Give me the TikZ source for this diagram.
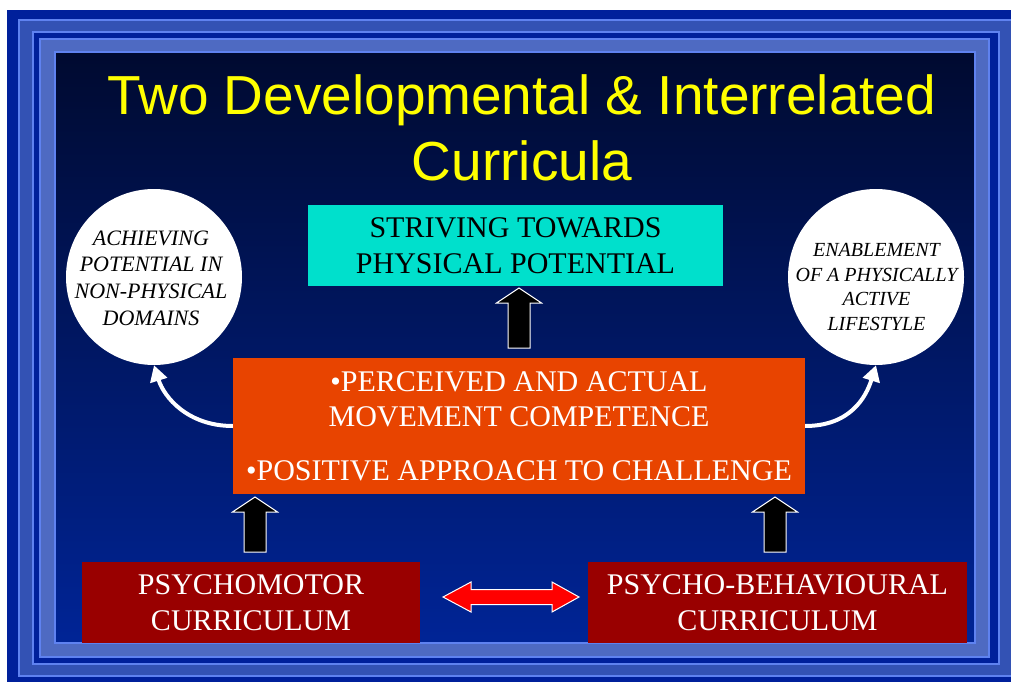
\documentclass[tikz,border=0pt]{standalone}
\usepackage{fontspec}
\setmainfont{Liberation Serif}
\newfontfamily\titlefont{Liberation Sans}
\usetikzlibrary{arrows.meta}
\usetikzlibrary{calc}

\definecolor{framedark}{RGB}{0,32,155}
\definecolor{bandone}{RGB}{51,82,180}
\definecolor{bandtwo}{RGB}{78,106,194}
\definecolor{frameline}{RGB}{95,130,240}
\definecolor{paneltop}{RGB}{0,10,48}
\definecolor{panelbottom}{RGB}{0,36,150}
\definecolor{titleyellow}{RGB}{255,255,0}
\definecolor{goalcyan}{RGB}{0,224,204}
\definecolor{competorange}{RGB}{232,68,0}
\definecolor{currred}{RGB}{153,0,0}

\tikzset{
  titletext/.style={anchor=base,inner sep=0pt,text=titleyellow,
    font=\titlefont\fontsize{55pt}{66pt}\selectfont},
  boxtext/.style={inner sep=0pt,align=center,font=\fontsize{30pt}{36pt}\selectfont},
  goalbox/.style={boxtext,fill=goalcyan,text=black,minimum width=415pt,minimum height=81pt},
  compbox/.style={boxtext,fill=competorange,text=white,minimum width=572pt,minimum height=136pt,
    font=\fontsize{30pt}{35pt}\selectfont},
  currbox/.style={boxtext,fill=currred,text=white,minimum width=338pt,minimum height=81pt},
  domaincircle/.style={circle,fill=white,minimum size=176pt,inner sep=0pt},
  domainlabel/.style={inner sep=0pt,align=center,text=black},
  blockarrow/.style={fill=black,draw=white,line width=1pt,line join=miter},
  linkarrow/.style={fill=red,draw=white,line width=1pt,line join=miter},
  bendarrow/.style={white,line width=4pt,-{Triangle[length=16pt,width=17pt]}},
  pics/uparrow/.style={code={
    \draw[blockarrow] (-11,0) -- (-11,-#1) -- (-22.5,-#1) -- (0,-#1-15)
      -- (22.5,-#1) -- (11,-#1) -- (11,0) -- cycle;}}
}

\begin{document}
\begin{tikzpicture}[x=1pt,y=-1pt]

\clip (0,0) rectangle (1011,682);
\fill[white] (0,0) rectangle (1011,682);

% frame
\fill[framedark] (7,10) rectangle (1025,688);
\filldraw[fill=bandone,draw=frameline,line width=1.2pt] (19,20) rectangle (1013,676);
\filldraw[fill=framedark,draw=frameline,line width=1.2pt] (33,32) rectangle (999,664);
\filldraw[fill=bandtwo,draw=frameline,line width=1.2pt] (40,39) rectangle (989,657);
\shade[top color=paneltop,bottom color=panelbottom] (55,52) rectangle (975,643);
\draw[frameline,line width=1.2pt] (55,52) rectangle (975,643);

% title
\node[titletext] (ttl1) at (522,114) {Two Developmental \& Interrelated};
\node[titletext] (ttl2) at (522,180) {Curricula};

% boxes
\node[goalbox] (goal) at (515.5,245.5) {STRIVING TOWARDS\\PHYSICAL POTENTIAL};
\node[compbox] (comp) at (519,426)
{•PERCEIVED AND ACTUAL\\MOVEMENT COMPETENCE\\[19pt]•POSITIVE APPROACH TO CHALLENGE};
\node[currbox] (psymot) at (251,602.5) {PSYCHOMOTOR\\CURRICULUM};
\node[currbox,minimum width=379pt] (psybeh) at (777.5,602.5) {PSYCHO-BEHAVIOURAL\\CURRICULUM};

% circles
\node[domaincircle] (nonphys) at (154,277) {};
\node[domainlabel,font=\itshape\fontsize{22pt}{26.7pt}\selectfont] (nonphystxt) at (151,278)
{ACHIEVING\\POTENTIAL IN\\NON-PHYSICAL\\DOMAINS};
\node[domaincircle] (active) at (876,277) {};
\node[domainlabel,font=\itshape\fontsize{20pt}{24.5pt}\selectfont] (activetxt) at ($(active)+(0.5,10)$)
{ENABLEMENT\\OF A PHYSICALLY\\ACTIVE\\LIFESTYLE};

% arrows
\pic at (519,348) {uparrow=45};
\pic at (255,552) {uparrow=40};
\pic at (775,552) {uparrow=40};

\draw[linkarrow] (443,597) -- (471,582) -- (471,589.5) -- (552,589.5) -- (552,582)
  -- (579,597) -- (552,612) -- (552,604.5) -- (471,604.5) -- (471,612) -- cycle;

\draw[bendarrow] (comp.west) .. controls ($(comp.west)+(-45,0)$) and ($(nonphys.south)+(10,32)$) .. (nonphys.south);
\draw[bendarrow] (comp.east) .. controls ($(comp.east)+(45,0)$) and ($(active.south)+(-10,32)$) .. (active.south);

\end{tikzpicture}
\end{document}
